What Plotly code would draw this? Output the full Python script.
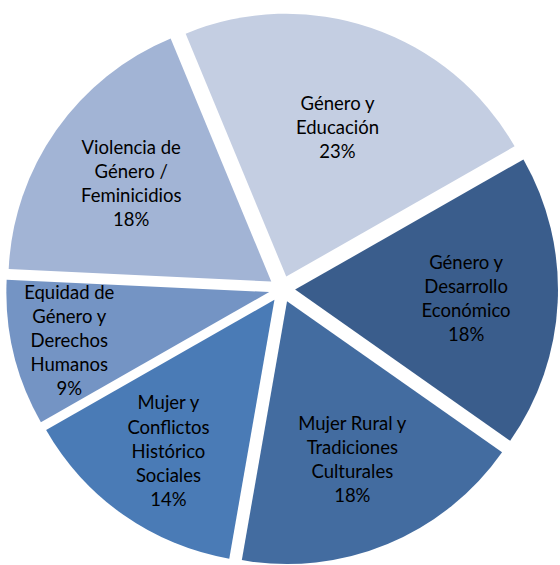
import plotly.graph_objects as go

# slice order, clockwise from the upper-left boundary
labels = [
    "Género y<br>Educación",
    "Género y<br>Desarrollo<br>Económico",
    "Mujer Rural y<br>Tradiciones<br>Culturales",
    "Mujer y<br>Conflictos<br>Histórico<br>Sociales",
    "Equidad de<br>Género y<br>Derechos<br>Humanos",
    "Violencia de<br>Género /<br>Feminicidios",
]
shares = [23, 18, 18, 14, 9, 18]
colors = ["#C4CEE2", "#3A5D8C", "#436CA0", "#4A7BB6", "#7494C4", "#A2B4D5"]

fig = go.Figure(
    go.Pie(
        labels=labels,
        values=shares,
        sort=False,
        direction="clockwise",
        rotation=-22.5,
        pull=0.05,
        marker={"colors": colors, "line": {"width": 0}},
        texttemplate="%{label}<br>%{percent:.0%}",
        textposition="inside",
        insidetextorientation="horizontal",
        textfont={"family": "Lato, 'Open Sans', sans-serif", "size": 18.5, "color": "#000000"},
        hoverinfo="label+percent",
    )
)
fig.update_layout(
    width=560,
    height=565,
    margin={"l": 4, "r": 0, "t": 13, "b": 0},
    showlegend=False,
    paper_bgcolor="white",
    uniformtext={"minsize": 18.5, "mode": "show"},
)
# drop the page's default body margin so the figure sits flush in the window
fig.write_html(
    "out.html",
    config={"displayModeBar": False},
    post_script="document.body.style.margin='0';document.body.style.overflow='hidden';",
)
